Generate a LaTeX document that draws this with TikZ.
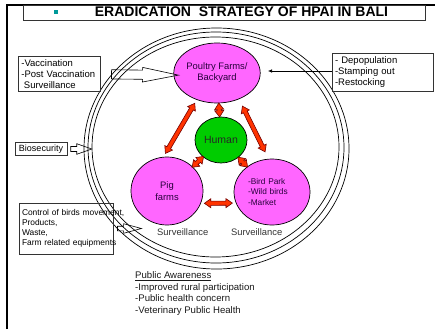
\documentclass[tikz,border=0pt]{standalone}
\usepackage{fontspec}
\setmainfont{Liberation Sans}
\usetikzlibrary{shapes.geometric,shapes.arrows,arrows.meta,calc}
\definecolor{pinkfill}{RGB}{255,102,255}
\definecolor{greenfill}{RGB}{0,204,0}
\definecolor{redarrow}{RGB}{255,51,0}
\definecolor{tealbullet}{RGB}{0,153,153}
\definecolor{darktext}{RGB}{40,0,60}
\begin{document}
\begin{tikzpicture}[x=1pt,y=-1pt,
  blob/.style={ellipse, draw=black, line width=0.7pt, inner sep=0pt, align=center, text=darktext},
  txtbox/.style={rectangle, draw=black!80, line width=0.7pt, inner xsep=3pt, inner ysep=0pt, align=left},
  redarr/.style={double arrow, draw=black!55!red, fill=redarrow, line width=0.6pt, inner sep=1.8pt,
     double arrow head extend=2.4pt, double arrow tip angle=70, sloped, midway},
  hollowarr/.style={single arrow, draw=black, line width=0.6pt, sloped, midway},
  ring/.style={draw=black, line width=0.7pt}
]
\useasboundingbox (0,0) rectangle (435,329);

% page frame
\draw[line width=2pt] (7,329) -- (7,4.5);
\draw[line width=1.3pt] (6,5) -- (435,5);

% title
\node[draw=black!80, line width=0.7pt, minimum width=402.5pt, minimum height=15.5pt, inner sep=0pt, anchor=north west] (titlebox) at (22.7,5) {};
\node[font=\fontsize{14}{16}\selectfont\bfseries, inner sep=0pt] (title) at (241.5,12) {ERADICATION\ \ STRATEGY OF HPAI IN BALI};
\node[fill=tealbullet, minimum size=4pt, inner sep=0pt] (bullet) at (56,12) {};

% rings
\draw[ring] (216.5,148.5) ellipse [x radius=132.5pt, y radius=120.5pt];
\draw[ring] (216,147.5) ellipse [x radius=128pt, y radius=115.5pt];
\draw[ring] (215.5,147) ellipse [x radius=123.5pt, y radius=110pt];

% central nodes
\node[blob, fill=pinkfill, minimum width=72pt, minimum height=60pt, font=\fontsize{9.4}{11}\selectfont] (poultry) at (217,73) {Poultry Farms/\\Backyard};
\node[blob, fill=greenfill, minimum width=52pt, minimum height=46pt, font=\fontsize{10.5}{12}\selectfont, text=black!85] (human) at (221,140) {Human};
\node[blob, fill=pinkfill, minimum width=72pt, minimum height=68pt, font=\fontsize{9.4}{11.5}\selectfont] (pig) at (167,191) {Pig\\farms};
\node[blob, fill=pinkfill, minimum width=76pt, minimum height=66pt, font=\fontsize{8.3}{10.3}\selectfont, align=left, text width=48pt] (bird) at (272,192) {-Bird Park\\-Wild birds\\-Market};

% red double arrows
\path (poultry) -- (human) node[redarr, minimum height=14pt] {};
\path (poultry.233) -- (pig.96) node[redarr, minimum height=58pt] {};
\path (poultry.310) -- (bird.96) node[redarr, minimum height=51pt] {};
\path (human) -- (pig) node[redarr, minimum height=16pt] {};
\path (human) -- (bird) node[redarr, minimum height=14pt] {};
\path (pig.340) -- (bird.197) node[redarr, minimum height=28pt] {};

% surveillance labels
\node[font=\fontsize{9.4}{11}\selectfont, text=black!80, inner sep=0pt] (surv1) at (182.8,232.6) {Surveillance};
\node[font=\fontsize{9.4}{11}\selectfont, text=black!80, inner sep=0pt] (surv2) at (256.7,232.6) {Surveillance};

% side boxes
\node[txtbox, minimum width=81.7pt, minimum height=35pt, text width=75.7pt, font=\fontsize{9.5}{11}\selectfont] (vacc) at (59.2,74.2) {-Vaccination\\-Post Vaccination\\\hspace*{2.6pt}Surveillance};
\coordinate (tipV) at (167,75);
\path (vacc.east) -- (tipV) node[hollowarr, minimum height=67pt, inner sep=4.3pt, single arrow head extend=2.7pt, single arrow tip angle=23] {};

\node[txtbox, minimum width=101pt, minimum height=38.5pt, text width=95pt, font=\fontsize{9.5}{11}\selectfont] (depop) at (382.5,72.5) {- Depopulation\\-Stamping out\\-Restocking};
\coordinate (tipD) at (268,71);
\draw[line width=0.6pt, -{Latex[length=4pt,width=3.5pt]}] (depop.west |- tipD) -- (tipD);

\node[txtbox, minimum width=52pt, minimum height=12.5pt, align=center, font=\fontsize{9}{10}\selectfont] (bio) at (41,149) {Biosecurity};
\coordinate (tipB) at (88,149);
\path (bio.east) -- (tipB) node[hollowarr, minimum height=21pt, inner sep=2.2pt, single arrow head extend=2.8pt, single arrow tip angle=39] {};

\node[txtbox, minimum width=94pt, minimum height=51pt, text width=88pt, font=\fontsize{8.4}{10.2}\selectfont] (control) at (66,228.5) {\mbox{Control of birds movement,}\\Products,\\Waste,\\\mbox{Farm related equipments}};
\coordinate (tipC) at (137,228.5);
\path (control.east) -- (tipC) node[hollowarr, minimum height=24pt, inner sep=2pt, single arrow head extend=2.5pt, single arrow tip angle=30] {};

% public awareness
\node[anchor=north west, inner sep=0pt, align=left, font=\fontsize{9.6}{11.7}\selectfont, text=black!90] (public) at (135,271.3) {\underline{Public Awareness}\\-Improved rural participation\\-Public health concern\\-Veterinary Public Health};
\end{tikzpicture}
\end{document}
